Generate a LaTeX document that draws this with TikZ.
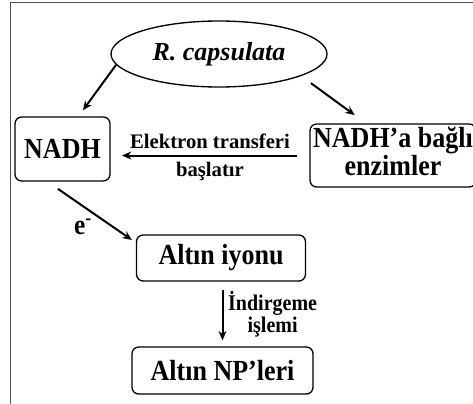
\documentclass[tikz,border=0pt]{standalone}
\usepackage{fontspec}
\setmainfont{Liberation Serif}
\usepackage{graphicx}
\usepackage{tikz}
\usetikzlibrary{arrows.meta}
\usetikzlibrary{shapes.geometric, positioning}

\newcommand{\tallt}[1]{\scalebox{1}[1.12]{#1}}

\begin{document}
\begin{tikzpicture}[x=0.75pt,y=-0.75pt,->,>={Stealth[length=7pt,width=6pt]},line width=1.5pt,
    box/.style={rectangle,draw,rounded corners=5pt,line width=1pt,align=center,inner sep=1pt,font=\bfseries\fontsize{19.5}{18.75}\selectfont},
    lbl/.style={font=\bfseries\fontsize{15.5}{15.5}\selectfont,align=center,inner sep=1pt}]

            \clip (0,0) rectangle (473,403);
            \draw[-,line width=0.75pt,black!70] (10,3) rectangle (490,420);

            \node[ellipse,draw,line width=1pt,minimum width=162pt,minimum height=49.5pt,inner sep=0pt,font=\bfseries\itshape\fontsize{19.5}{20}\selectfont] (rc) at (219,54) {R. capsulata};
            \node[box,minimum width=71.25pt,minimum height=48pt] (nadh) at (62.5,149) {\tallt{NADH}};
            \node[box,minimum width=124.5pt,minimum height=47.25pt] (enz) at (393,155.5) {\tallt{\begin{tabular}{@{}c@{}}NADH’a bağlı\\enzimler\end{tabular}}};
            \node[box,minimum width=126.75pt,minimum height=34.5pt] (iyon) at (221,258) {\tallt{Altın iyonu}};
            \node[box,minimum width=135.75pt,minimum height=35.25pt] (np) at (222.5,370.5) {\tallt{Altın NP’leri}};

              \path
                (rc.186) edge [shorten >=5.6pt]                  ([xshift=12pt]nadh.north)
                (rc.-15) edge [shorten <=9pt, shorten >=10.5pt]  ([xshift=-20.25pt]enz.north)
                (enz.west) edge [shorten <=9pt, shorten >=8.5pt] node [midway,above=3.5pt,lbl] {Elektron transferi}
                                                                  node [midway,below=3.5pt,lbl] {başlatır}  (nadh.east |- enz.west)
                ([xshift=-11.25pt]nadh.south) edge [shorten <=9.5pt, shorten >=3.6pt]
                                                                  node [pos=0.55,below left=2pt,lbl,font=\bfseries\fontsize{19}{19}\selectfont] {\tallt{e\textsuperscript{-}}}
                                                                  ([yshift=11.5pt]iyon.west)
                (iyon.south -| np.north) edge [shorten <=6pt, shorten >=4.5pt] node [midway,right=2.5pt,lbl,font=\bfseries\fontsize{15}{14}\selectfont] {\tallt{İndirgeme}\\\tallt{işlemi}} (np.north);
            \end{tikzpicture}
\end{document}
